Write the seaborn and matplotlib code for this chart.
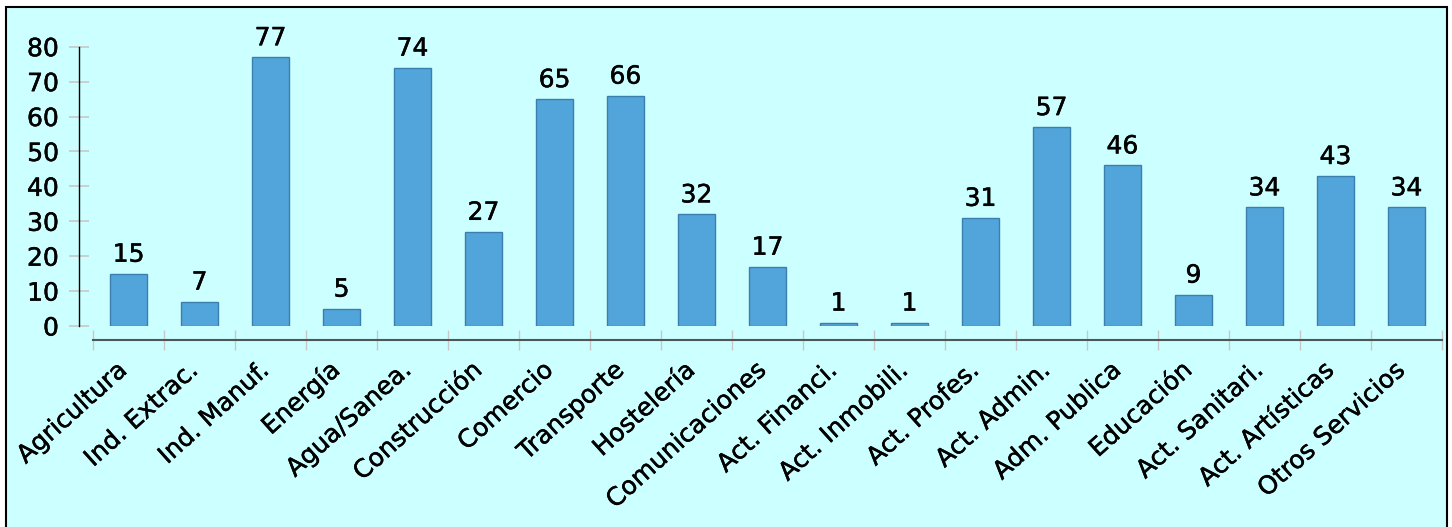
import numpy as np
import matplotlib
matplotlib.use("Agg")
import matplotlib.pyplot as plt
import matplotlib.patheffects as pe
import seaborn as sns
from matplotlib.patches import Rectangle

# datos por sector
sectores = ["Agricultura", "Ind. Extrac.", "Ind. Manuf.", "Energía", "Agua/Sanea.",
            "Construcción", "Comercio", "Transporte", "Hostelería", "Comunicaciones",
            "Act. Financi.", "Act. Inmobili.", "Act. Profes.", "Act. Admin.",
            "Adm. Publica", "Educación", "Act. Sanitari.", "Act. Artísticas",
            "Otros Servicios"]
valores = [15, 7, 77, 5, 74, 27, 65, 66, 32, 17, 1, 1, 31, 57, 46, 9, 34, 43, 34]
y_ticks = list(range(0, 81, 10))

sns.set_style("white")
plt.rcParams['font.family'] = ['DejaVu Sans']

W, H = 1452, 527
fig = plt.figure(figsize=(W / 100, H / 100), dpi=100)
fig.patch.set_facecolor("white")

# fondo cian con borde negro (debajo de los ejes)
fig.patches.append(Rectangle((6 / W, -0.02), (1447 - 6) / W, (527 - 7) / H + 0.02,
                             transform=fig.transFigure, facecolor="#ccffff",
                             edgecolor="black", linewidth=1.5, zorder=-1))

ax = fig.add_axes([79 / W, (H - 326) / H, (1446 - 79) / W, (326 - 46.7) / H])
ax.set_facecolor("none")

sns.barplot(x=sectores, y=valores, color="#52a5da", saturation=1, width=0.52,
            edgecolor="#3b7fae", linewidth=1, ax=ax)

# texto algo mas grueso, como en el original
grueso = [pe.withStroke(linewidth=0.35, foreground="black")]

for c in ax.containers:
    for t in ax.bar_label(c, fontsize=18, padding=5, color="black"):
        t.set_path_effects(grueso)

ax.set_ylim(0, 80)
ax.set_xlim(-0.5 - 14 / 71, -0.5 - 14 / 71 + 1367 / 71)
ax.set_yticks(y_ticks)

for s in ["top", "right"]:
    ax.spines[s].set_visible(False)
ax.spines["left"].set_bounds(0, 80)
ax.spines["left"].set_color("black")
ax.spines["left"].set_linewidth(1)
ax.spines["bottom"].set_position(("outward", 10))
ax.spines["bottom"].set_bounds(-0.5, len(sectores) - 0.5)
ax.spines["bottom"].set_color("#4c5858")
ax.spines["bottom"].set_linewidth(1.5)

ax.tick_params(which="both", left=True, bottom=True)
ax.tick_params(axis="y", direction="inout", length=15, width=1.2, color="#c8c8c8",
               pad=7, labelsize=18, labelcolor="black")
ax.set_xticks(np.arange(-0.5, len(sectores)), minor=True)
ax.tick_params(axis="x", which="minor", direction="inout", length=14.5, width=1,
               color="#c8c8c8")
ax.tick_params(axis="x", which="major", length=0, pad=23, labelsize=18,
               labelcolor="black")
ax.set_xticks(range(len(sectores)))
ax.set_xticklabels(sectores, rotation=42, ha="right", va="baseline",
                   rotation_mode="anchor")
for t in ax.get_xticklabels() + ax.get_yticklabels():
    t.set_path_effects(grueso)
ax.set_xlabel("")
ax.set_ylabel("")

fig.savefig("out.png", dpi=100)
